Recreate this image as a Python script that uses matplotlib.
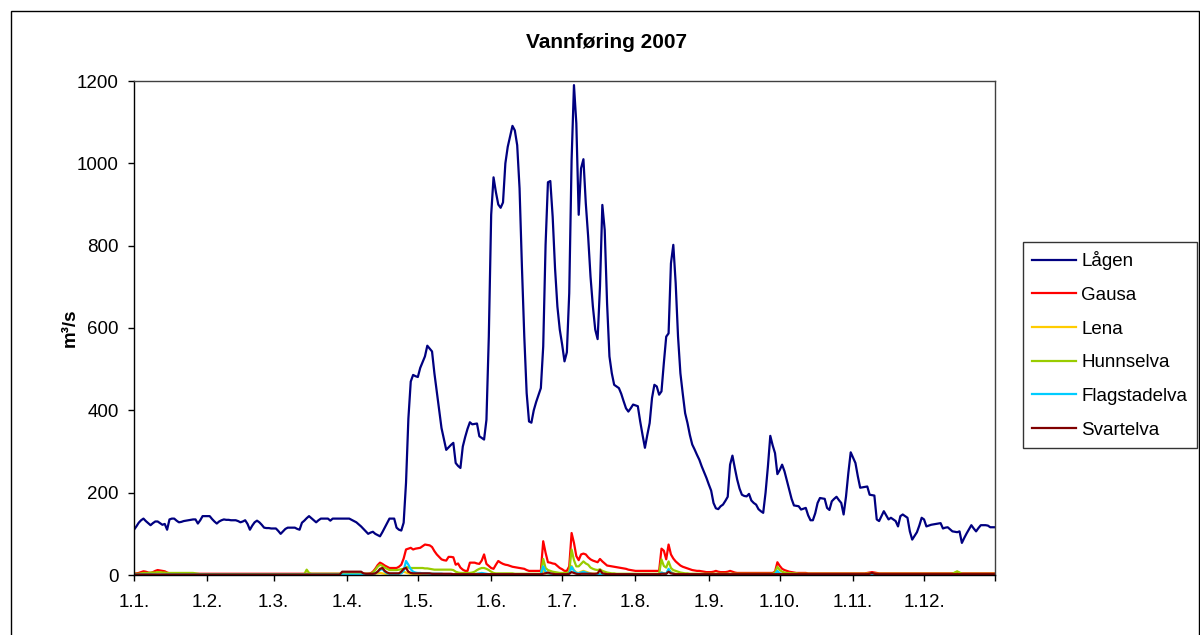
import numpy as np
import matplotlib
matplotlib.use('Agg')
import matplotlib.pyplot as plt
from matplotlib.patches import Rectangle

plt.rcParams['font.family'] = ['Liberation Sans', 'DejaVu Sans']

# daily discharge 2007, m3/s (one value per day, Jan 1 .. Dec 31)
lagen = [
    110, 118, 127, 133, 137, 131, 126, 121, 126, 130, 130, 126, 122, 124, 110, 135, 137, 137, 132, 128, 129, 131, 132, 133, 134, 135, 135, 125, 133, 143, 143,
    143, 143, 136, 130, 125, 130, 133, 135, 134, 134, 133, 133, 133, 131, 128, 130, 133, 124, 110, 120, 128, 132, 128, 122, 115, 114, 114, 113,
    113, 113, 107, 100, 106, 112, 115, 115, 115, 115, 112, 110, 127, 132, 138, 143, 138, 133, 128, 133, 137, 137, 137, 137, 132, 137, 137, 137, 137, 137, 137,
    137, 137, 134, 131, 128, 123, 118, 112, 106, 100, 103, 105, 100, 97, 94, 104, 115, 126, 137, 137, 137, 115, 110, 108, 127, 224, 380, 470, 486, 483,
    481, 503, 517, 531, 557, 550, 543, 490, 446, 400, 357, 330, 304, 310, 316, 321, 272, 265, 260, 312, 335, 355, 371, 366, 367, 368, 337, 333, 329, 377, 579,
    875, 966, 930, 900, 892, 905, 1000, 1040, 1065, 1091, 1080, 1044, 939, 749, 579, 442, 373, 370, 400, 420, 437, 454, 555, 802, 954, 957, 870, 745, 652, 596,
    560, 519, 541, 685, 1008, 1190, 1097, 875, 988, 1010, 903, 822, 725, 652, 596, 573, 701, 899, 838, 660, 531, 490, 462, 458, 454, 440, 422, 405, 397, 405, 414,
    412, 410, 373, 340, 309, 340, 369, 430, 462, 458, 438, 446, 515, 579, 587, 757, 802, 709, 579, 490, 440, 393, 369, 340, 317, 305, 292, 280, 264, 250, 236,
    220, 205, 175, 162, 160, 167, 171, 180, 190, 268, 290, 260, 232, 210, 195, 192, 191, 197, 181, 175, 171, 160, 155, 151, 200, 264, 338, 315, 296, 245,
    255, 268, 252, 230, 207, 185, 169, 168, 167, 159, 161, 163, 145, 133, 133, 150, 175, 187, 186, 185, 163, 158, 179, 185, 190, 182, 175, 147, 190, 248, 298,
    285, 272, 240, 212, 213, 214, 215, 195, 194, 193, 135, 131, 143, 155, 145, 135, 139, 135, 131, 118, 143, 147, 143, 139, 106, 86, 95, 104, 120, 139,
    135, 118, 120, 122, 123, 124, 125, 126, 113, 115, 116, 111, 106, 105, 104, 106, 78, 90, 101, 111, 121, 113, 106, 114, 121, 121, 121, 120, 116, 116, 116,
]

gausa = [
    3, 4, 5, 7, 9, 8, 6, 5, 7, 10, 12, 11, 10, 9, 6, 4, 3, 3, 3, 3, 3, 3, 3, 3, 3, 3, 3, 3, 3, 3, 3,
    3, 3, 3, 3, 3, 3, 3, 3, 3, 3, 3, 3, 3, 3, 3, 3, 3, 3, 3, 3, 3, 3, 3, 3, 3, 3, 3, 3,
    3, 3, 3, 3, 3, 3, 3, 3, 3, 3, 3, 3, 3, 3, 3, 3, 3, 3, 3, 3, 3, 3, 3, 3, 3, 3, 3, 3, 3, 3, 3,
    3, 3, 3, 3, 3, 3, 3, 3, 3, 3, 4, 8, 15, 24, 30, 27, 23, 20, 17, 17, 17, 17, 20, 25, 40, 62, 64, 66, 62, 64,
    65, 66, 70, 74, 73, 72, 68, 58, 50, 44, 38, 36, 35, 44, 44, 43, 25, 28, 18, 13, 10, 10, 30, 30, 30, 28, 27, 35, 50, 27, 22,
    17, 15, 25, 34, 30, 27, 25, 24, 22, 20, 19, 18, 17, 16, 15, 12, 10, 10, 10, 10, 10, 10, 82, 54, 31, 30, 28, 27, 22, 17,
    14, 10, 10, 21, 102, 78, 46, 36, 50, 52, 50, 43, 38, 35, 33, 31, 39, 33, 28, 23, 22, 21, 20, 19, 18, 17, 16, 15, 13, 12, 11,
    10, 10, 10, 10, 10, 10, 10, 10, 10, 10, 10, 64, 59, 38, 74, 50, 40, 33, 28, 23, 20, 18, 16, 14, 12, 11, 10, 10, 9, 8, 7,
    7, 7, 8, 10, 8, 7, 7, 7, 8, 10, 8, 6, 5, 5, 5, 5, 5, 5, 5, 5, 5, 5, 5, 5, 5, 5, 5, 5, 8, 31,
    22, 15, 12, 10, 8, 7, 6, 5, 5, 5, 5, 5, 4, 4, 4, 4, 4, 4, 4, 4, 4, 4, 4, 4, 4, 4, 4, 4, 4, 4, 4,
    4, 4, 4, 4, 4, 4, 5, 6, 7, 6, 5, 4, 4, 4, 4, 4, 4, 4, 4, 4, 4, 4, 4, 4, 4, 4, 4, 4, 4, 4,
    4, 4, 4, 4, 4, 4, 4, 4, 4, 4, 4, 4, 4, 5, 6, 5, 4, 4, 4, 4, 4, 4, 4, 4, 4, 4, 4, 4, 4, 4, 4,
]

lena = [
    1, 1, 1, 1, 1, 1, 1, 1, 1, 1, 1, 1, 1, 1, 1, 1, 1, 1, 1, 1, 1, 1, 1, 1, 1, 1, 1, 1, 1, 1, 1,
    1, 1, 1, 1, 1, 1, 1, 1, 1, 1, 1, 1, 1, 1, 1, 1, 1, 1, 1, 1, 1, 1, 1, 1, 1, 1, 1, 1,
    1, 1, 1, 1, 1, 1, 1, 1, 1, 1, 1, 1, 1, 1, 1, 1, 1, 1, 1, 1, 1, 1, 1, 1, 1, 1, 1, 1, 1, 1, 1,
    1, 1, 1, 1, 1, 1, 1, 1, 1, 1, 1, 2, 3, 4, 5, 4, 3, 2, 2, 2, 2, 2, 3, 5, 8, 6, 4, 3, 3, 3,
    3, 3, 3, 3, 3, 3, 3, 2, 2, 2, 2, 2, 2, 2, 2, 1, 1, 1, 1, 1, 1, 1, 1, 1, 2, 3, 3, 3, 2, 2, 1,
    1, 1, 1, 1, 1, 1, 1, 1, 1, 1, 1, 1, 1, 1, 1, 1, 1, 1, 1, 1, 1, 1, 12, 5, 3, 2, 2, 1, 1, 1,
    1, 1, 1, 3, 22, 12, 6, 5, 8, 10, 8, 6, 4, 3, 3, 2, 3, 2, 2, 1, 1, 1, 1, 1, 1, 1, 1, 1, 1, 1, 1,
    1, 1, 1, 1, 1, 1, 1, 1, 1, 1, 1, 6, 4, 3, 12, 8, 4, 3, 2, 1, 1, 1, 1, 1, 1, 1, 1, 1, 1, 1, 1,
    1, 1, 1, 1, 1, 1, 1, 1, 1, 1, 1, 1, 1, 1, 1, 1, 1, 1, 1, 1, 1, 1, 1, 1, 1, 1, 1, 1, 2, 6,
    3, 2, 1, 1, 1, 1, 1, 1, 1, 1, 1, 1, 1, 1, 1, 1, 1, 1, 1, 1, 1, 1, 1, 1, 1, 1, 1, 1, 1, 1, 1,
    1, 1, 1, 1, 1, 2, 3, 3, 2, 1, 1, 1, 1, 1, 1, 1, 1, 1, 1, 1, 1, 1, 1, 1, 1, 1, 1, 1, 1, 1,
    1, 1, 1, 1, 1, 1, 1, 1, 1, 1, 1, 1, 1, 1, 1, 1, 1, 1, 1, 1, 1, 1, 1, 1, 1, 1, 1, 1, 1, 1, 1,
]

hunnselva = [
    3, 3, 3, 4, 5, 5, 5, 6, 6, 6, 7, 7, 6, 6, 5, 5, 5, 5, 5, 5, 5, 5, 5, 5, 5, 5, 4, 3, 2, 2, 2,
    2, 2, 2, 2, 2, 2, 2, 2, 2, 2, 2, 2, 2, 2, 2, 2, 2, 2, 2, 2, 2, 2, 2, 2, 2, 2, 2, 2,
    2, 2, 2, 2, 2, 2, 2, 2, 2, 2, 2, 2, 2, 2, 13, 5, 3, 3, 3, 3, 3, 3, 3, 3, 3, 3, 3, 3, 3, 3, 3,
    3, 3, 3, 3, 3, 3, 3, 3, 3, 3, 3, 6, 12, 20, 25, 22, 18, 15, 12, 12, 12, 12, 13, 14, 15, 20, 18, 17, 17, 17,
    17, 17, 17, 16, 16, 15, 14, 13, 13, 13, 13, 13, 13, 13, 13, 12, 8, 6, 5, 5, 5, 5, 5, 6, 8, 12, 15, 17, 17, 15, 12,
    8, 5, 4, 4, 4, 4, 4, 4, 4, 4, 3, 3, 3, 3, 3, 3, 3, 3, 3, 3, 3, 3, 39, 17, 12, 10, 8, 7, 6, 5,
    5, 5, 5, 8, 62, 36, 21, 21, 27, 33, 28, 25, 18, 15, 13, 12, 14, 10, 8, 6, 5, 4, 4, 3, 3, 3, 3, 3, 3, 3, 3,
    3, 3, 3, 3, 3, 3, 3, 3, 3, 3, 3, 38, 22, 18, 33, 17, 12, 10, 8, 6, 5, 4, 4, 3, 3, 3, 3, 3, 3, 3, 3,
    3, 3, 3, 3, 3, 3, 3, 3, 3, 3, 3, 3, 3, 3, 3, 3, 3, 3, 3, 3, 3, 3, 3, 3, 3, 3, 3, 3, 6, 20,
    12, 8, 6, 5, 5, 4, 4, 4, 3, 3, 3, 3, 3, 3, 3, 3, 3, 3, 3, 3, 3, 3, 3, 3, 3, 3, 3, 3, 3, 3, 3,
    3, 3, 3, 3, 3, 3, 3, 3, 3, 3, 3, 3, 3, 3, 3, 3, 3, 3, 3, 3, 3, 3, 3, 3, 3, 3, 3, 3, 3, 3,
    3, 3, 3, 3, 3, 3, 3, 3, 3, 3, 3, 3, 3, 6, 9, 6, 3, 3, 3, 3, 3, 3, 3, 3, 3, 3, 3, 3, 3, 3, 3,
]

flagstadelva = [
    1, 1, 1, 1, 1, 1, 1, 1, 1, 1, 1, 1, 1, 1, 1, 1, 1, 1, 1, 1, 1, 1, 1, 1, 1, 1, 1, 1, 1, 1, 1,
    1, 1, 1, 1, 1, 1, 1, 1, 1, 1, 1, 1, 1, 1, 1, 1, 1, 1, 1, 1, 1, 1, 1, 1, 1, 1, 1, 1,
    1, 1, 1, 1, 1, 1, 1, 1, 1, 1, 1, 1, 1, 1, 1, 1, 1, 1, 1, 1, 1, 1, 1, 1, 1, 1, 1, 1, 1, 1, 1,
    1, 1, 1, 1, 1, 1, 1, 1, 1, 1, 1, 2, 4, 8, 12, 15, 8, 4, 3, 3, 3, 3, 3, 4, 10, 34, 25, 14, 8, 6,
    5, 5, 4, 4, 4, 3, 3, 3, 3, 3, 3, 2, 2, 2, 2, 2, 2, 2, 2, 2, 2, 2, 2, 2, 2, 3, 4, 5, 4, 3, 2,
    2, 2, 2, 2, 2, 2, 2, 1, 1, 1, 1, 1, 1, 1, 1, 1, 1, 1, 1, 1, 1, 1, 21, 8, 4, 3, 2, 2, 1, 1,
    1, 1, 1, 3, 20, 10, 5, 4, 6, 8, 6, 4, 3, 2, 2, 2, 2, 2, 1, 1, 1, 1, 1, 1, 1, 1, 1, 1, 1, 1, 1,
    1, 1, 1, 1, 1, 1, 1, 1, 1, 1, 1, 6, 4, 3, 15, 6, 3, 2, 1, 1, 1, 1, 1, 1, 1, 1, 1, 1, 1, 1, 1,
    1, 1, 1, 1, 1, 1, 1, 1, 1, 1, 1, 1, 1, 1, 1, 1, 1, 1, 1, 1, 1, 1, 1, 1, 1, 1, 1, 1, 2, 10,
    4, 2, 1, 1, 1, 1, 1, 1, 1, 1, 1, 1, 1, 1, 1, 1, 1, 1, 1, 1, 1, 1, 1, 1, 1, 1, 1, 1, 1, 1, 1,
    1, 1, 1, 1, 1, 1, 1, 1, 1, 1, 1, 1, 1, 1, 1, 0, 0, 0, 0, 0, 0, 0, 0, 0, 0, 0, 0, 0, 0, 0,
    0, 0, 0, 0, 0, 0, 0, 0, 0, 0, 0, 0, 0, 0, 0, 0, 0, 0, 0, 0, 0, 0, 0, 0, 0, 0, 0, 0, 0, 0, 0,
]

svartelva = [
    1, 1, 1, 1, 1, 1, 1, 1, 1, 1, 1, 1, 1, 1, 1, 1, 1, 1, 1, 1, 1, 1, 1, 1, 1, 1, 1, 1, 1, 1, 1,
    1, 1, 1, 1, 1, 1, 1, 1, 1, 1, 1, 1, 1, 1, 1, 1, 1, 1, 1, 1, 1, 1, 1, 1, 1, 1, 1, 1,
    1, 1, 1, 1, 1, 1, 1, 1, 1, 1, 1, 1, 1, 1, 1, 1, 1, 1, 1, 1, 1, 1, 1, 1, 1, 1, 1, 1, 1, 8, 8,
    8, 8, 8, 8, 8, 8, 8, 4, 3, 3, 3, 3, 4, 8, 15, 17, 10, 6, 4, 4, 4, 4, 4, 8, 15, 17, 8, 5, 4, 4,
    4, 4, 4, 4, 4, 4, 3, 3, 3, 3, 3, 3, 3, 3, 3, 2, 2, 2, 2, 2, 2, 2, 2, 2, 2, 2, 2, 2, 2, 2, 2,
    2, 2, 2, 2, 2, 2, 2, 2, 2, 2, 2, 2, 2, 2, 2, 2, 2, 2, 2, 2, 2, 2, 3, 4, 6, 4, 3, 2, 2, 2,
    2, 2, 2, 3, 7, 5, 3, 2, 3, 3, 3, 3, 3, 3, 3, 4, 12, 4, 3, 2, 2, 2, 2, 2, 2, 2, 2, 2, 2, 2, 2,
    2, 2, 2, 2, 2, 2, 2, 2, 2, 2, 2, 3, 3, 3, 8, 4, 3, 2, 2, 2, 2, 2, 2, 2, 2, 2, 2, 2, 2, 2, 2,
    2, 2, 2, 2, 2, 2, 2, 2, 2, 2, 2, 2, 2, 2, 2, 2, 2, 2, 2, 2, 2, 2, 2, 2, 2, 2, 2, 2, 2, 2,
    2, 2, 2, 2, 2, 2, 2, 2, 2, 2, 2, 2, 2, 2, 2, 2, 2, 2, 2, 2, 2, 2, 2, 2, 2, 2, 2, 2, 2, 2, 2,
    2, 2, 2, 2, 2, 2, 2, 3, 5, 3, 2, 2, 2, 2, 2, 2, 2, 2, 2, 2, 2, 2, 2, 2, 2, 2, 2, 2, 2, 2,
    2, 2, 2, 2, 2, 2, 2, 2, 2, 2, 2, 2, 2, 2, 2, 2, 2, 2, 2, 2, 2, 2, 2, 2, 2, 2, 2, 2, 2, 2, 2,
]

names = ['Lågen', 'Gausa', 'Lena', 'Hunnselva', 'Flagstadelva', 'Svartelva']
colors = ['#000080', '#FF0000', '#FFCC00', '#99CC00', '#00CCFF', '#800000']
month_starts = [0, 31, 59, 90, 120, 151, 181, 212, 243, 273, 304, 334]
month_labels = ['1.1.', '1.2.', '1.3.', '1.4.', '1.5.', '1.6.',
                '1.7.', '1.8.', '1.9.', '1.10.', '1.11.', '1.12.']

series = [lagen, gausa, lena, hunnselva, flagstadelva, svartelva]
for s in series:
    assert len(s) == 365, len(s)

W, H = 1200, 635
fig = plt.figure(figsize=(W / 100, H / 100), dpi=100)
ax = fig.add_axes([134 / W, 1 - 575 / H, 861 / W, 494 / H])

days = np.arange(365)
for s, name, c in zip(series, names, colors):
    ax.plot(days, s, color=c, lw=1.6, label=name, solid_joinstyle='round')

ax.set_xlim(0, 364)
ax.set_ylim(0, 1200)
ax.set_yticks(range(0, 1201, 200))
ax.set_xticks(month_starts + [364])
ax.set_xticklabels(month_labels + [''])
ax.tick_params(direction='out', length=4, width=1, labelsize=13.5, colors='black')
ax.tick_params(axis='x', pad=10)
ax.tick_params(axis='y', pad=7)
for side in ['left', 'bottom']:
    ax.spines[side].set_color('black')
    ax.spines[side].set_linewidth(1)
for side in ['top', 'right']:
    ax.spines[side].set_color('#404040')
    ax.spines[side].set_linewidth(1)

ax.set_ylabel('m³/s', fontsize=13.5, fontweight='bold')
ax.yaxis.set_label_coords((79 - 134) / 861, 0.5)

fig.text(607 / W, 1 - 43 / H, 'Vannføring 2007', ha='center', va='center',
         fontsize=15, fontweight='bold')

leg = fig.legend(loc='upper left', bbox_to_anchor=(1023 / W, 1 - 242 / H),
                 frameon=True, fancybox=False, edgecolor='black', fontsize=13.5,
                 handlelength=2.3, handletextpad=0.3, labelspacing=0.88,
                 borderpad=0.5, borderaxespad=0)
leg.get_frame().set_linewidth(1)

# chart border
fig.add_artist(Rectangle((11 / W, -0.05), 1188 / W, 1 - 11 / H + 0.05,
                         transform=fig.transFigure, fill=False,
                         edgecolor='black', lw=1))

fig.savefig('out.png', dpi=100)
